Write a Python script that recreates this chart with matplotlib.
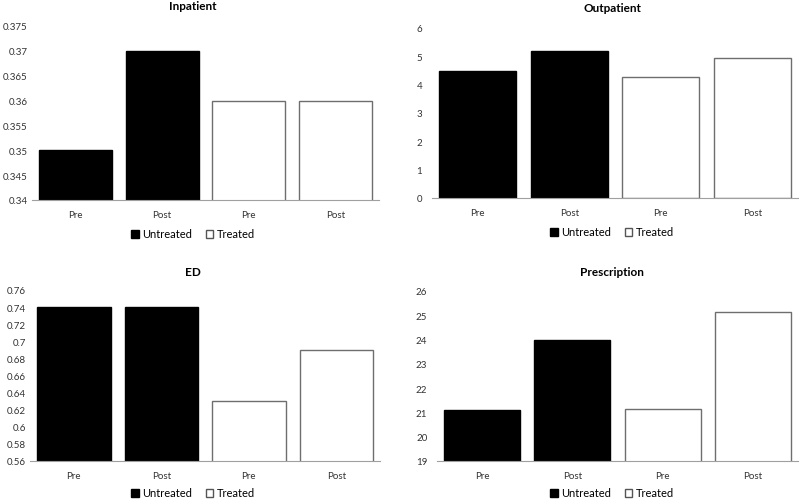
import matplotlib.pyplot as plt
from matplotlib.patches import Patch

plt.rcParams['font.family'] = ['Lato', 'DejaVu Sans']

# data
categories = ['Pre', 'Post', 'Pre', 'Post']
groups = ['Untreated', 'Untreated', 'Treated', 'Treated']

inpatient = [0.35, 0.37, 0.36, 0.36]
outpatient = [4.48, 5.2, 4.28, 4.94]
ed = [0.74, 0.74, 0.63, 0.69]
prescription = [21.08, 24.0, 21.15, 25.12]

W, H = 800, 502
fig = plt.figure(figsize=(8, 5.02), dpi=100)


def box(x0, y0, x1, y1):
    # pixel box -> figure fraction
    return [x0 / W, 1 - y1 / H, (x1 - x0) / W, (y1 - y0) / H]


# title, values, axes box, ylim, tick step, (title center x, title y, legend y) in pixels
panels = [
    ('Inpatient', inpatient, box(32, 27, 379, 201), (0.34, 0.375), 0.005, (193, 7, 235)),
    ('Outpatient', outpatient, box(432, 29, 798, 199), (0, 6), 1, (612, 9, 233)),
    ('ED', ed, box(30, 291, 380, 462), (0.56, 0.76), 0.02, (193, 273, 494)),
    ('Prescription', prescription, box(437, 292, 798, 462), (19, 26), 1, (612, 273, 494)),
]

for title, vals, pos, ylim, step, (tx, ty, ly) in panels:
    ax = fig.add_axes(pos)
    x = range(len(vals))
    fills = ['black' if g == 'Untreated' else 'white' for g in groups]
    edges = ['black' if g == 'Untreated' else '#6e6e6e' for g in groups]
    ax.bar(x, vals, width=0.84, color=fills, edgecolor=edges, linewidth=1.0)
    ax.set_xlim(-0.5, len(vals) - 0.5)
    ax.set_ylim(*ylim)
    n = int(round((ylim[1] - ylim[0]) / step))
    ticks = [ylim[0] + i * step for i in range(n + 1)]
    ax.set_yticks(ticks)
    ax.set_yticklabels(['{:g}'.format(round(t, 4)) for t in ticks])
    ax.set_xticks(list(x))
    ax.set_xticklabels(categories)
    ax.tick_params(axis='both', length=0, labelsize=7, colors='#333333')
    ax.tick_params(axis='x', pad=7)
    ax.tick_params(axis='y', pad=3 if tx < 400 else 7)
    for s in ['top', 'right', 'left']:
        ax.spines[s].set_visible(False)
    ax.spines['bottom'].set_color('#a0a0a0')

    fig.text(tx / W, 1 - ty / H, title, ha='center', va='center',
             fontsize=8.5, fontweight='bold')

    handles = [Patch(facecolor='black', edgecolor='black', label='Untreated'),
               Patch(facecolor='white', edgecolor='#555555', label='Treated')]
    fig.legend(handles=handles, loc='center', bbox_to_anchor=(tx / W, 1 - ly / H),
               ncol=2, frameon=False, fontsize=8, handlelength=0.7, handleheight=0.7,
               handletextpad=0.3, columnspacing=1.2, borderpad=0.1)

fig.savefig('out.png', dpi=100)
